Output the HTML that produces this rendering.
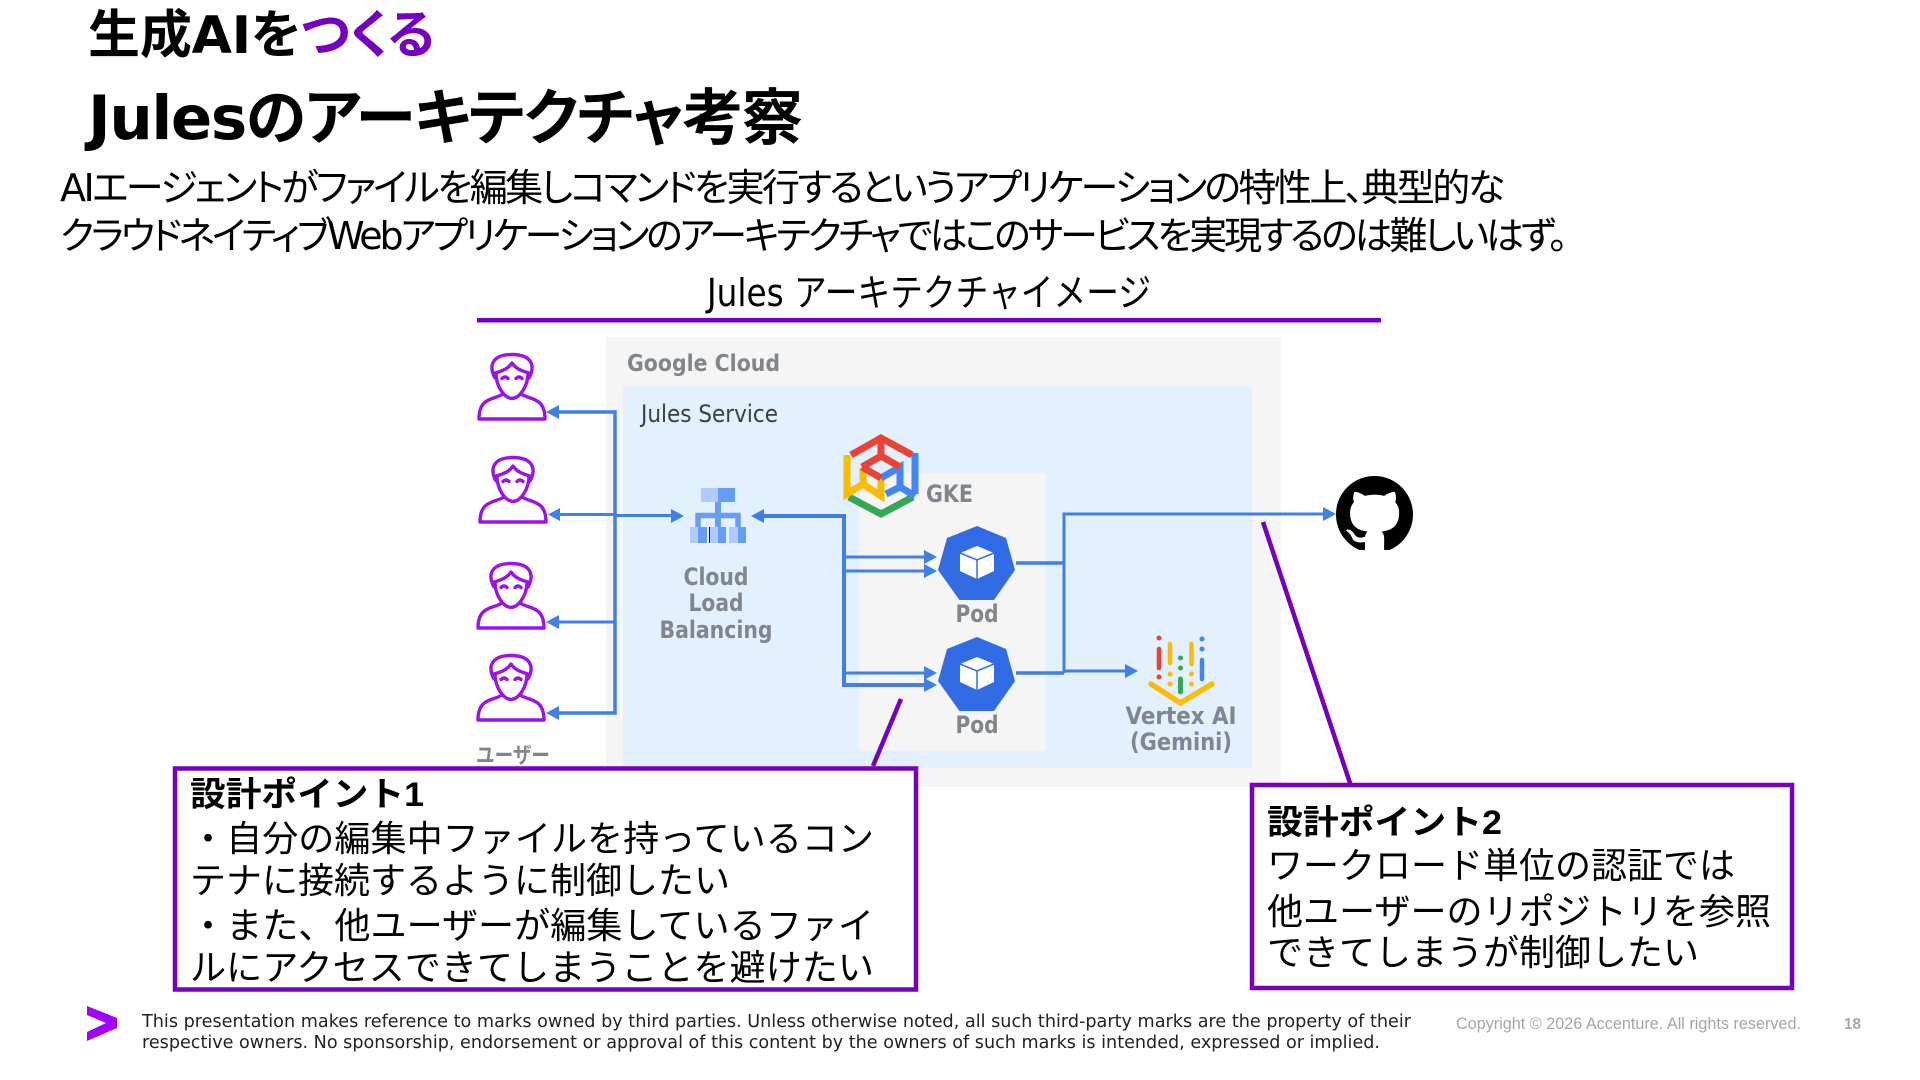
<!DOCTYPE html>
<html lang="ja"><head><meta charset="utf-8"><title>Jules</title>
<style>
html,body{margin:0;padding:0;background:#fff;width:1920px;height:1080px;overflow:hidden}
svg{display:block}
text{font-family:"DejaVu Sans","Noto Sans CJK JP",sans-serif;white-space:pre}
.cj{font-family:"Liberation Sans","Noto Sans CJK JP",sans-serif}
.p{font-feature-settings:"palt" 1}
.lbl{font-weight:700;fill:#80868b;font-size:24px}
</style></head><body>
<svg width="1920" height="1080" viewBox="0 0 1920 1080" xmlns="http://www.w3.org/2000/svg">
<defs>
<symbol id="u" viewBox="0 0 70 68" overflow="visible">
<g fill="none" stroke="#9a14e8" stroke-width="3.400" stroke-linejoin="round" stroke-linecap="round">
<path d="M18 25C11 12 16 1.500 35 1.500C54 1.500 59 12 52 25"/>
<path d="M18 20C25 18 31 16 35 10C39 16 45 18 52 20"/>
<path d="M19 20C19 33 27 45 35 45.500C43 45 51 33 51 20"/>
<path d="M26 41C17 47 2 44 2 66H68C68 44 53 47 44 41"/>
<path d="M25 25.500Q28 22.500 31 25.500M39 25.500Q42 22.500 45 25.500"/>
</g></symbol>
<symbol id="pod" viewBox="939 527 75 72" overflow="visible">
<polygon points="977,526 1006,538 1015,570 994,600 959.500,600 938,570 947,538" fill="#326ce5"/>
<polygon points="977,546 994,553 994,571 977,579 960,571 960,553" fill="#fff"/>
<path d="M960 553L977 560L994 553M977 560V579" fill="none" stroke="#326ce5" stroke-width="1.500"/>
</symbol>
</defs>

<!-- Titles -->
<text class="p" x="88" y="53" font-size="52" font-weight="700" textLength="347">生成AIを<tspan fill="#7500c0">つくる</tspan></text>
<text class="p" x="88" y="139" font-size="61" font-weight="700" textLength="715">Julesのアーキテクチャ考察</text>
<text class="p" x="60" y="201" font-size="38" textLength="1445">AIエージェントがファイルを編集しコマンドを実行するというアプリケーションの特性上、典型的な</text>
<text class="p" x="60" y="249" font-size="38" textLength="1508">クラウドネイティブWebアプリケーションのアーキテクチャではこのサービスを実現するのは難しいはず。</text>
<text x="707" y="306" font-size="38" textLength="444" lengthAdjust="spacingAndGlyphs">Jules アーキテクチャイメージ</text>
<rect x="477" y="318" width="904" height="4.500" fill="#7500c0"/>

<!-- Panels -->
<rect x="606" y="337" width="675" height="450" fill="#f5f5f5"/>
<rect x="623" y="387" width="629" height="381" fill="#e2f1fd"/>
<rect x="859" y="473" width="187" height="278" fill="#f5f5f5"/>
<text x="627" y="371" font-size="23" font-weight="700" fill="#80868b" textLength="153" lengthAdjust="spacingAndGlyphs">Google Cloud</text>
<text x="641" y="422" font-size="24" fill="#3c4043" textLength="137" lengthAdjust="spacingAndGlyphs">Jules Service</text>

<!-- Users -->
<use href="#u" x="477" y="353" width="70" height="68"/>
<use href="#u" x="478" y="456" width="70" height="68"/>
<use href="#u" x="476" y="562" width="70" height="68"/>
<use href="#u" x="476" y="654" width="70" height="68"/>
<text x="476" y="763" font-size="22" font-weight="700" fill="#80868b" textLength="74" lengthAdjust="spacingAndGlyphs">ユーザー</text>

<!-- Connectors -->
<g fill="none" stroke="#3f7fe6" stroke-width="3">
<path d="M555 412H615V713H555" stroke-width="3.500"/>
<path d="M555 514.500H615"/><path d="M555 622H615"/>
<path d="M615 515.500H675"/>
<path d="M760 516H844V685H925" stroke-width="4"/>
<path d="M844 557H925M844 571H925M844 673H925"/>
<path d="M1016 563H1064M1016 673H1064" stroke-width="3.500"/>
<path d="M1064 673V514H1326"/>
<path d="M1064 671H1128"/>
</g>
<g fill="#3f7fe6">
<polygon points="546,412 559,405 559,419"/>
<polygon points="548,514.500 560,508 560,521"/>
<polygon points="546,622 559,615 559,629"/>
<polygon points="546,713 559,706 559,720"/>
<polygon points="684,516 671,509 671,523"/>
<polygon points="751,516 764,509 764,523"/>
<polygon points="937,557 924,550 924,564"/>
<polygon points="937,571 924,564 924,578"/>
<polygon points="937,673 924,666 924,680"/>
<polygon points="937,685 924,678 924,692"/>
<polygon points="1336,514 1323,507 1323,521"/>
<polygon points="1138,671 1125,664 1125,678"/>
</g>

<!-- Load balancer -->
<g>
<rect x="701" y="488" width="17" height="14" fill="#aecbfa"/>
<rect x="718" y="488" width="17" height="14" fill="#669df6"/>
<rect x="715" y="502" width="6" height="25" fill="#669df6"/>
<path d="M698 527V515.500H738V527" fill="none" stroke="#669df6" stroke-width="5.500"/>
<rect x="690" y="527" width="8" height="16" fill="#aecbfa"/><rect x="698" y="527" width="9" height="16" fill="#669df6"/>
<rect x="710" y="527" width="8" height="16" fill="#aecbfa"/><rect x="718" y="527" width="8" height="16" fill="#669df6"/>
<rect x="729" y="527" width="9" height="16" fill="#aecbfa"/><rect x="738" y="527" width="8" height="16" fill="#669df6"/>
<rect x="709" y="527" width="1" height="16" fill="#111"/>
</g>
<text x="716" y="585" class="lbl" text-anchor="middle" textLength="65" lengthAdjust="spacingAndGlyphs">Cloud</text>
<text x="716" y="611" class="lbl" text-anchor="middle" textLength="55" lengthAdjust="spacingAndGlyphs">Load</text>
<text x="716" y="638" class="lbl" text-anchor="middle" textLength="113" lengthAdjust="spacingAndGlyphs">Balancing</text>

<!-- GKE icon -->
<g fill="none" stroke-width="7">
<path d="M851 455L881 438L912 455" stroke="#ea4335"/>
<path d="M881 438V459" stroke="#ea4335"/>
<path d="M915 453V494" stroke="#4285f4"/>
<path d="M849 497L881 514L913 497" stroke="#34a853"/>
<path d="M847 455V494L863 484" stroke="#fbbc04"/>
<path d="M863 468V484L881 496V477" stroke="#fbbc04"/>
<path d="M881 478L900 467V487L915 496" stroke="#4285f4"/>
<path d="M900 487L886 494" stroke="#4285f4"/>
<path d="M862 467L881 456L900 467" stroke="#ea4335"/>
<path d="M862 467L881 478" stroke="#ea4335"/>
</g>
<text x="926" y="502" class="lbl" textLength="47" lengthAdjust="spacingAndGlyphs">GKE</text>

<!-- Pods -->
<use href="#pod" x="939" y="527" width="75" height="72"/>
<use href="#pod" x="939" y="638" width="75" height="72"/>
<text x="977" y="622" class="lbl" text-anchor="middle" textLength="43" lengthAdjust="spacingAndGlyphs">Pod</text>
<text x="977" y="733" class="lbl" text-anchor="middle" textLength="43" lengthAdjust="spacingAndGlyphs">Pod</text>

<!-- Vertex AI -->
<g stroke-linecap="round" fill="none" stroke-width="4.500">
<path d="M1159 649V668" stroke="#ea4335"/><path d="M1170 644V663" stroke="#fbbc04"/><path d="M1191.500 644V664" stroke="#fbbc04"/>
<path d="M1202 660V679" stroke="#4285f4"/>
<path d="M1180.500 679V692" stroke="#34a853" stroke-width="5"/>
<path d="M1151 684L1180.500 703L1212 684" stroke="#fbbc04" stroke-width="5.500"/>
</g>
<g>
<circle cx="1159" cy="638" r="2.500" fill="#ea4335"/><circle cx="1159" cy="677" r="2.500" fill="#ea4335"/>
<circle cx="1170" cy="674" r="2.500" fill="#fbbc04"/><circle cx="1170" cy="684" r="2.500" fill="#fbbc04"/>
<circle cx="1191.500" cy="674" r="2.500" fill="#fbbc04"/><circle cx="1191.500" cy="684" r="2.500" fill="#fbbc04"/>
<circle cx="1180.500" cy="658" r="2.500" fill="#34a853"/><circle cx="1180.500" cy="668" r="2.500" fill="#34a853"/>
<circle cx="1202" cy="639" r="2.500" fill="#4285f4"/><circle cx="1202" cy="649" r="2.500" fill="#4285f4"/>
</g>
<text x="1181" y="724" class="lbl" text-anchor="middle" textLength="111" lengthAdjust="spacingAndGlyphs">Vertex AI</text>
<text x="1181" y="750" class="lbl" text-anchor="middle" textLength="102" lengthAdjust="spacingAndGlyphs">(Gemini)</text>

<!-- GitHub -->
<svg x="1336" y="476" width="77" height="77" viewBox="0 0 16 16"><path fill="#000" d="M8 0C3.580 0 0 3.580 0 8c0 3.540 2.290 6.530 5.470 7.590.4.070.55-.17.55-.38 0-.19-.01-.82-.01-1.490-2.010.37-2.530-.49-2.690-.94-.09-.23-.48-.94-.82-1.130-.28-.15-.68-.52-.01-.53.63-.01 1.080.58 1.230.82.72 1.210 1.870.87 2.330.66.07-.52.28-.87.51-1.070-1.780-.2-3.640-.89-3.640-3.950 0-.87.31-1.590.82-2.150-.08-.2-.36-1.020.08-2.120 0 0 .67-.21 2.200.82.64-.18 1.320-.27 2-.27.68 0 1.360.09 2 .27 1.530-1.040 2.200-.82 2.200-.82.44 1.100.16 1.920.08 2.120.51.56.82 1.270.82 2.150 0 3.070-1.870 3.750-3.650 3.950.29.25.54.73.54 1.480 0 1.070-.01 1.930-.01 2.200 0 .21.15.46.55.38A8.013 8.013 0 0016 8c0-4.420-3.580-8-8-8z"/></svg>
<rect x="1336" y="550" width="77" height="5" fill="#fff"/>

<!-- Callout leaders -->
<path d="M901 699L873 766" stroke="#7500c0" stroke-width="4.500" fill="none"/>
<path d="M1263 522L1351 786" stroke="#7500c0" stroke-width="4.500" fill="none"/>

<!-- Callout 1 -->
<rect x="175" y="768.500" width="741" height="221" fill="#fff" stroke="#7500c0" stroke-width="4.500"/>
<text class="cj" x="190" y="806" font-size="34" font-weight="700" textLength="234" lengthAdjust="spacingAndGlyphs">設計ポイント1</text>
<text class="cj" x="190" y="851" font-size="36" textLength="684" lengthAdjust="spacingAndGlyphs">・自分の編集中ファイルを持っているコン</text>
<text class="cj" x="190" y="893" font-size="36" textLength="540" lengthAdjust="spacingAndGlyphs">テナに接続するように制御したい</text>
<text class="cj" x="190" y="938" font-size="36" textLength="684" lengthAdjust="spacingAndGlyphs">・また、他ユーザーが編集しているファイ</text>
<text class="cj" x="190" y="980" font-size="36" textLength="684" lengthAdjust="spacingAndGlyphs">ルにアクセスできてしまうことを避けたい</text>

<!-- Callout 2 -->
<rect x="1252" y="785" width="540" height="203" fill="#fff" stroke="#7500c0" stroke-width="4.500"/>
<text class="cj" x="1267" y="834" font-size="34" font-weight="700" textLength="235" lengthAdjust="spacingAndGlyphs">設計ポイント2</text>
<text class="cj" x="1267" y="878" font-size="36" textLength="468" lengthAdjust="spacingAndGlyphs">ワークロード単位の認証では</text>
<text class="cj" x="1267" y="924" font-size="36" textLength="504" lengthAdjust="spacingAndGlyphs">他ユーザーのリポジトリを参照</text>
<text class="cj" x="1267" y="965" font-size="36" textLength="432" lengthAdjust="spacingAndGlyphs">できてしまうが制御したい</text>

<!-- Footer -->
<polygon points="87,1006 117,1018 117,1028 87,1041 87,1032 106,1023 87,1015" fill="#a100ff"/>
<text x="142" y="1027" font-size="18" fill="#222" textLength="1269" lengthAdjust="spacingAndGlyphs">This presentation makes reference to marks owned by third parties. Unless otherwise noted, all such third-party marks are the property of their</text>
<text x="142" y="1048" font-size="18" fill="#222" textLength="1238" lengthAdjust="spacingAndGlyphs">respective owners. No sponsorship, endorsement or approval of this content by the owners of such marks is intended, expressed or implied.</text>
<text x="1456" y="1029" style="font-family:'Liberation Sans',sans-serif" font-size="17" fill="#a6a6a6" textLength="345" lengthAdjust="spacingAndGlyphs">Copyright © 2026 Accenture. All rights reserved.</text>
<text x="1844" y="1029" style="font-family:'Liberation Sans',sans-serif" font-size="16" font-weight="700" fill="#a6a6a6" textLength="17" lengthAdjust="spacingAndGlyphs">18</text>
</svg>
</body></html>
